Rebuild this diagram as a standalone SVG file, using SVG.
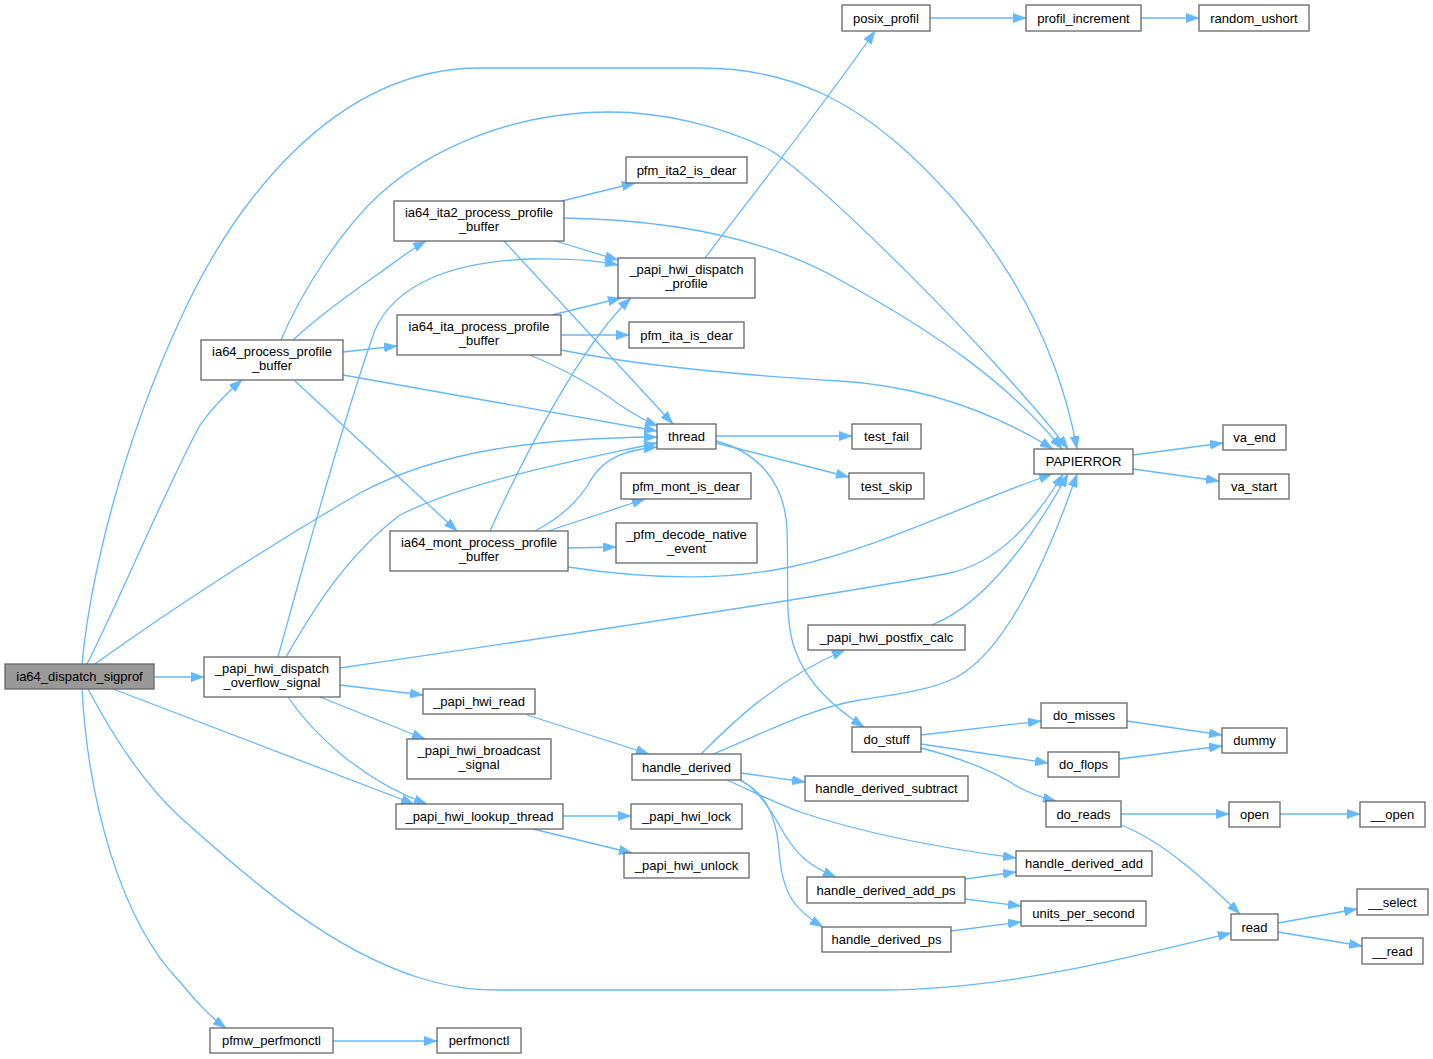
<svg xmlns="http://www.w3.org/2000/svg" width="1433" height="1059" viewBox="0 0 1433 1059">
<style>
.n rect{fill:#fff;stroke:#666;stroke-width:1.3}
.n.root rect{fill:#999}
.n text{font-family:"Liberation Sans",Arial,Helvetica,sans-serif;font-size:13px;text-anchor:middle;fill:#000}
#edges path{fill:none;stroke:#63b8ff;stroke-width:1.3;marker-end:url(#arr)}
</style>
<defs>
<marker id="arr" markerUnits="userSpaceOnUse" viewBox="0 0 13 9.4" markerWidth="13" markerHeight="9.4" refX="13" refY="4.7" orient="auto">
<path d="M0,0 L13,4.7 L0,9.4 z" fill="#63b8ff" stroke="#63b8ff" stroke-width="0.5"/>
</marker>
</defs>
<rect width="1433" height="1059" fill="#fff"/>
<g id="edges">
<path d="M82,664 C90,580 120,450 180,320 C230,210 330,68 480,68 L700,68 C800,68 860,110 905,150 C960,200 1050,300 1077,449"/>
<path d="M281,340 C300,295 340,230 381,193 C430,150 510,112 610,112 C660,112 720,125 770,150 C820,180 1000,360 1068,449"/>
<path d="M564,218 C680,220 770,240 840,280 C940,335 1010,385 1062,449"/>
<path d="M561,350 C640,366 740,375 840,381 C920,386 990,410 1053,449"/>
<path d="M568,567 C640,578 720,582 790,567 C880,548 960,506 1052,474"/>
<path d="M340,668 C600,630 850,592 950,573 C1000,562 1035,520 1063,474"/>
<path d="M932,625 C975,608 1020,560 1068,474"/>
<path d="M713,754 C760,735 810,708 860,700 C900,694 930,690 955,678 C1000,655 1040,580 1077,474"/>
<path d="M87,664 C115,610 165,490 200,425 C214,405 228,392 242,380"/>
<path d="M95,664 C170,610 270,545 360,493 C440,450 540,438 657,437"/>
<path d="M154,677 L204,677"/>
<path d="M113,689 L414,804"/>
<path d="M88,689 C115,740 145,785 180,817 C250,880 330,950 420,978 C450,987 470,990 500,990 L880,990 C1000,990 1120,960 1231,933"/>
<path d="M82,689 C88,800 120,920 180,982 C195,1000 208,1015 226,1028"/>
<path d="M293,340 C320,315 355,290 381,272 C395,262 410,250 426,241"/>
<path d="M343,352 L397,346"/>
<path d="M343,375 L657,431"/>
<path d="M295,381 L457,531"/>
<path d="M562,201 L635,183"/>
<path d="M552,240 L618,260"/>
<path d="M503,240 L673,424"/>
<path d="M552,315 L621,298"/>
<path d="M561,335 L629,335"/>
<path d="M530,355 C570,372 600,390 620,405 C635,415 645,421 658,426"/>
<path d="M490,531 C520,465 580,345 631,298"/>
<path d="M535,531 C560,518 580,500 592,478 C605,458 625,450 657,447"/>
<path d="M548,531 L645,499"/>
<path d="M568,548 L616,547"/>
<path d="M278,657 C310,540 350,400 375,330 C395,285 450,262 530,259 C570,258 600,261 618,265"/>
<path d="M286,657 C305,625 340,560 400,515 C470,480 580,460 657,443"/>
<path d="M340,685 L423,695"/>
<path d="M320,697 L425,739"/>
<path d="M288,697 C310,730 360,780 427,804"/>
<path d="M705,258 C760,185 820,110 875,31"/>
<path d="M930,18 L1026,18"/>
<path d="M1141,18 L1199,18"/>
<path d="M716,436 L852,436"/>
<path d="M716,443 L849,477"/>
<path d="M716,441 C750,450 785,475 787,530 C789,580 784,620 795,650 C808,685 835,708 864,727"/>
<path d="M1133,455 L1223,443"/>
<path d="M1133,469 L1219,481"/>
<path d="M527,715 L649,754"/>
<path d="M563,816 L631,816"/>
<path d="M533,829 L632,853"/>
<path d="M701,754 C730,725 775,680 845,650"/>
<path d="M741,773 L805,782"/>
<path d="M727,780 C760,795 780,805 800,812 C860,832 940,848 1016,858"/>
<path d="M741,780 C760,792 772,812 785,835 C800,860 815,868 836,877"/>
<path d="M741,781 C765,792 776,815 779,850 C782,895 795,910 823,927"/>
<path d="M921,735 L1041,721"/>
<path d="M921,744 L1048,763"/>
<path d="M921,748 C960,758 990,770 1010,782 C1025,792 1040,797 1056,801"/>
<path d="M1127,721 L1222,735"/>
<path d="M1119,759 L1222,746"/>
<path d="M1121,814 L1229,814"/>
<path d="M1280,814 L1360,814"/>
<path d="M1121,825 C1160,840 1200,875 1240,914"/>
<path d="M965,879 L1016,872"/>
<path d="M965,899 L1021,906"/>
<path d="M951,931 L1021,922"/>
<path d="M1278,923 L1357,909"/>
<path d="M1278,932 L1362,946"/>
<path d="M333,1041 L437,1041"/>
</g>
<g id="n1" class="n root"><rect x="5" y="664" width="149" height="25"/><text x="79.5" y="681">ia64_dispatch_sigprof</text></g>
<g id="n2" class="n"><rect x="201" y="340" width="142" height="40"/><text x="272" y="355.5">ia64_process_profile</text><text x="272" y="369.5">_buffer</text></g>
<g id="n3" class="n"><rect x="204" y="657" width="136" height="40"/><text x="272" y="672.5">_papi_hwi_dispatch</text><text x="272" y="686.5">_overflow_signal</text></g>
<g id="n4" class="n"><rect x="210" y="1028" width="123" height="25"/><text x="271.5" y="1045">pfmw_perfmonctl</text></g>
<g id="n5" class="n"><rect x="437" y="1028" width="84" height="25"/><text x="479" y="1045">perfmonctl</text></g>
<g id="n6" class="n"><rect x="394" y="201" width="170" height="40"/><text x="479" y="216.5">ia64_ita2_process_profile</text><text x="479" y="230.5">_buffer</text></g>
<g id="n7" class="n"><rect x="397" y="315" width="164" height="40"/><text x="479" y="330.5">ia64_ita_process_profile</text><text x="479" y="344.5">_buffer</text></g>
<g id="n8" class="n"><rect x="390" y="531" width="178" height="40"/><text x="479" y="546.5">ia64_mont_process_profile</text><text x="479" y="560.5">_buffer</text></g>
<g id="n9" class="n"><rect x="423" y="689" width="112" height="25"/><text x="479" y="706">_papi_hwi_read</text></g>
<g id="n10" class="n"><rect x="407" y="739" width="144" height="40"/><text x="479" y="754.5">_papi_hwi_broadcast</text><text x="479" y="768.5">_signal</text></g>
<g id="n11" class="n"><rect x="396" y="804" width="167" height="25"/><text x="479.5" y="821">_papi_hwi_lookup_thread</text></g>
<g id="n12" class="n"><rect x="626" y="157" width="121" height="26"/><text x="686.5" y="174.5">pfm_ita2_is_dear</text></g>
<g id="n13" class="n"><rect x="618" y="258" width="137" height="40"/><text x="686.5" y="273.5">_papi_hwi_dispatch</text><text x="686.5" y="287.5">_profile</text></g>
<g id="n14" class="n"><rect x="629" y="322" width="115" height="26"/><text x="686.5" y="339.5">pfm_ita_is_dear</text></g>
<g id="n15" class="n"><rect x="657" y="424" width="59" height="25"/><text x="686.5" y="441">thread</text></g>
<g id="n16" class="n"><rect x="621" y="473" width="130" height="26"/><text x="686" y="490.5">pfm_mont_is_dear</text></g>
<g id="n17" class="n"><rect x="616" y="523" width="141" height="40"/><text x="686.5" y="538.5">_pfm_decode_native</text><text x="686.5" y="552.5">_event</text></g>
<g id="n18" class="n"><rect x="842" y="5" width="88" height="26"/><text x="886" y="22.5">posix_profil</text></g>
<g id="n19" class="n"><rect x="1026" y="5" width="115" height="26"/><text x="1083.5" y="22.5">profil_increment</text></g>
<g id="n20" class="n"><rect x="1199" y="5" width="110" height="26"/><text x="1254" y="22.5">random_ushort</text></g>
<g id="n21" class="n"><rect x="1034" y="449" width="99" height="25"/><text x="1083.5" y="466">PAPIERROR</text></g>
<g id="n22" class="n"><rect x="1223" y="425" width="63" height="25"/><text x="1254.5" y="442">va_end</text></g>
<g id="n23" class="n"><rect x="1219" y="474" width="70" height="25"/><text x="1254" y="491">va_start</text></g>
<g id="n24" class="n"><rect x="852" y="424" width="69" height="25"/><text x="886.5" y="441">test_fail</text></g>
<g id="n25" class="n"><rect x="849" y="473" width="75" height="26"/><text x="886.5" y="490.5">test_skip</text></g>
<g id="n26" class="n"><rect x="808" y="625" width="157" height="25"/><text x="886.5" y="642">_papi_hwi_postfix_calc</text></g>
<g id="n27" class="n"><rect x="632" y="754" width="109" height="26"/><text x="686.5" y="771.5">handle_derived</text></g>
<g id="n28" class="n"><rect x="852" y="727" width="69" height="25"/><text x="886.5" y="744">do_stuff</text></g>
<g id="n29" class="n"><rect x="1041" y="703" width="86" height="25"/><text x="1084" y="720">do_misses</text></g>
<g id="n30" class="n"><rect x="1048" y="752" width="71" height="25"/><text x="1083.5" y="769">do_flops</text></g>
<g id="n31" class="n"><rect x="1046" y="801" width="75" height="26"/><text x="1083.5" y="818.5">do_reads</text></g>
<g id="n32" class="n"><rect x="1222" y="728" width="65" height="25"/><text x="1254.5" y="745">dummy</text></g>
<g id="n33" class="n"><rect x="1229" y="802" width="51" height="25"/><text x="1254.5" y="819">open</text></g>
<g id="n34" class="n"><rect x="1360" y="802" width="65" height="25"/><text x="1392.5" y="819">__open</text></g>
<g id="n35" class="n"><rect x="805" y="776" width="163" height="25"/><text x="886.5" y="793">handle_derived_subtract</text></g>
<g id="n36" class="n"><rect x="1016" y="851" width="136" height="25"/><text x="1084" y="868">handle_derived_add</text></g>
<g id="n37" class="n"><rect x="807" y="877" width="158" height="26"/><text x="886" y="894.5">handle_derived_add_ps</text></g>
<g id="n38" class="n"><rect x="1021" y="901" width="125" height="25"/><text x="1083.5" y="918">units_per_second</text></g>
<g id="n39" class="n"><rect x="822" y="927" width="129" height="25"/><text x="886.5" y="944">handle_derived_ps</text></g>
<g id="n40" class="n"><rect x="1231" y="914" width="47" height="26"/><text x="1254.5" y="931.5">read</text></g>
<g id="n41" class="n"><rect x="1357" y="889" width="71" height="26"/><text x="1392.5" y="906.5">__select</text></g>
<g id="n42" class="n"><rect x="1362" y="938" width="61" height="26"/><text x="1392.5" y="955.5">__read</text></g>
<g id="n43" class="n"><rect x="631" y="804" width="111" height="25"/><text x="686.5" y="821">_papi_hwi_lock</text></g>
<g id="n44" class="n"><rect x="624" y="853" width="125" height="25"/><text x="686.5" y="870">_papi_hwi_unlock</text></g>
</svg>
